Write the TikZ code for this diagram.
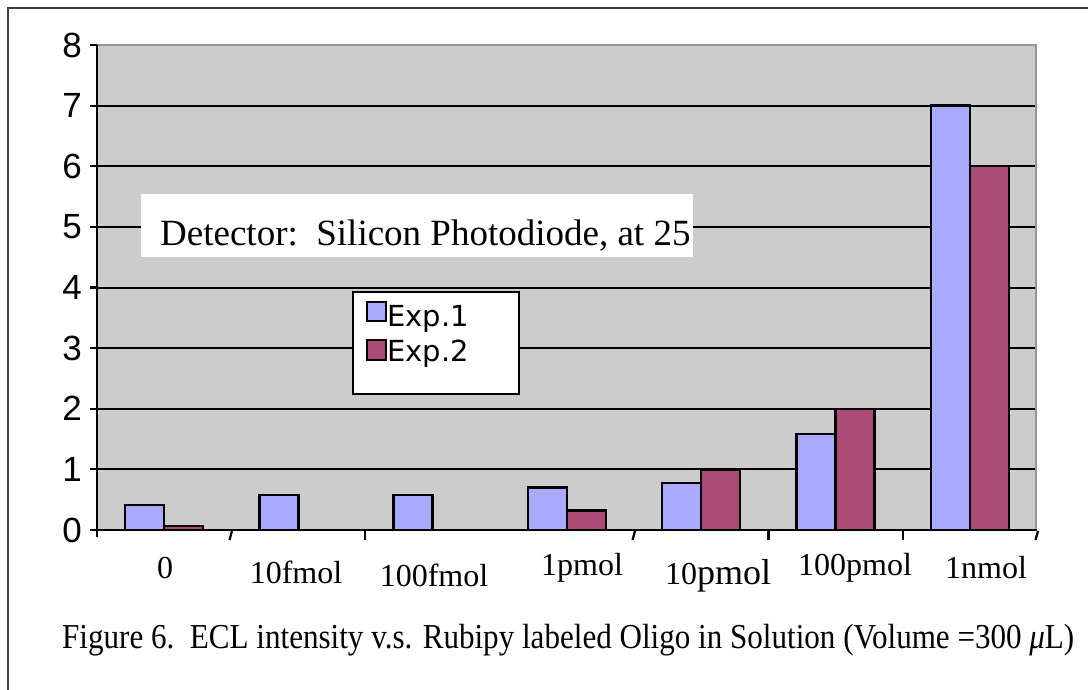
\documentclass[tikz,border=0pt]{standalone}
\usepackage{fontspec}
\setmainfont{Liberation Serif}
\newfontfamily\axisfont{Liberation Sans}
\newfontfamily\legfont{DejaVu Sans}
\definecolor{plotbg}{RGB}{204,204,204}
\definecolor{plotedge}{RGB}{150,150,150}
\definecolor{expone}{RGB}{170,170,255}
\definecolor{exptwo}{RGB}{170,74,118}
\tikzset{
  gridline/.style={black, line width=2pt},
  axisline/.style={black, line width=2.2pt},
  bar/.style={draw=black, line width=2.4pt},
  ylab/.style={anchor=east, inner sep=0pt, font=\axisfont\fontsize{35}{35}\selectfont},
  catlab/.style={inner sep=0pt, font=\fontsize{32}{32}\selectfont},
  legtext/.style={anchor=base west, inner sep=0pt, font=\legfont\fontsize{29}{29}\selectfont},
}
\begin{document}
\begin{tikzpicture}[x=1pt,y=-1pt]
\useasboundingbox (0,0) rectangle (1088,690);
% outer frame
\draw[line width=2pt, black!75] (8,692) -- (8,8) -- (1092,8);
% plot area
\fill[plotbg] (97,45) rectangle (1036,530);
\draw[plotedge, line width=2pt] (97,45) -- (1036,45) -- (1036,530);
% horizontal grid
\foreach \v in {1,...,7}
  \draw[gridline] (97,{530-60.625*\v}) -- (1035,{530-60.625*\v});
% text box over the grid
\node[fill=white, minimum width=552pt, minimum height=63pt, inner sep=0pt, anchor=north west] (det) at (141,194) {};
\node[anchor=base west, inner sep=0pt, font=\fontsize{37}{37}\selectfont] (dettext) at (160,246) {Detector:\ \ Silicon Photodiode, at 25};
% bars
\foreach \i/\a/\b in {0/0.41/0.07,1/0.58/0,2/0.58/0,3/0.70/0.32,4/0.78/1.0,5/1.58/2.0,6/7/6}{
  \pgfmathsetmacro{\L}{97+134.3*\i+28}
  \draw[bar, fill=expone] (\L,530) rectangle ({\L+39},{530-60.625*\a});
  \ifdim\b pt>0pt
    \draw[bar, fill=exptwo] ({\L+39},530) rectangle ({\L+78},{530-60.625*\b});
  \fi
}
% legend
\node[draw=black, line width=2pt, fill=white, minimum width=166pt, minimum height=102pt, inner sep=0pt, anchor=north west] (leg) at (352,291) {};
\draw[black, line width=1.5pt, fill=expone] (367,302) rectangle (386,321);
\node[legtext] (l1) at (387,326) {Exp.1};
\draw[black, line width=1.5pt, fill=exptwo] (367,340) rectangle (386,360);
\node[legtext] (l2) at (387,361) {Exp.2};
% axes
\draw[axisline] (97,45) -- (97,537);
\draw[axisline] (96,530) -- (1037,530);
\foreach \v in {0,...,8}{
  \draw[axisline] (90,{530-60.625*\v}) -- (97,{530-60.625*\v});
  \node[ylab] (y\v) at (82,{530-60.625*\v}) {\v};
}
% category ticks
\foreach \x in {365,768.5,903}
  \draw[axisline] (\x,530) -- (\x,540);
\foreach \x in {231,634,1037}
  \draw[axisline] (\x-1.5,540) -- (\x+1,531);
% category labels
\node[catlab] (c0) at (165,568) {0};
\node[catlab] (c1) at (296,572) {10fmol};
\node[catlab] (c2) at (434,575) {100fmol};
\node[catlab] (c3) at (582,568) {1pmol};
\node[catlab, anchor=base] (c4) at (718,584) {10{\fontsize{36}{36}\selectfont pmol}};
\node[catlab] (c5) at (855,568) {100pmol};
\node[catlab] (c6) at (986,568) {1nmol};
% caption
\node[anchor=base west, inner sep=0pt, font=\fontsize{35}{35}\selectfont] (cap) at (62,648)
  {\scalebox{0.888}[1]{Figure 6.\ \ ECL intensity v.s. Rubipy labeled Oligo in Solution (Volume =300 {\itshape μ}L)}};
\end{tikzpicture}
\end{document}
